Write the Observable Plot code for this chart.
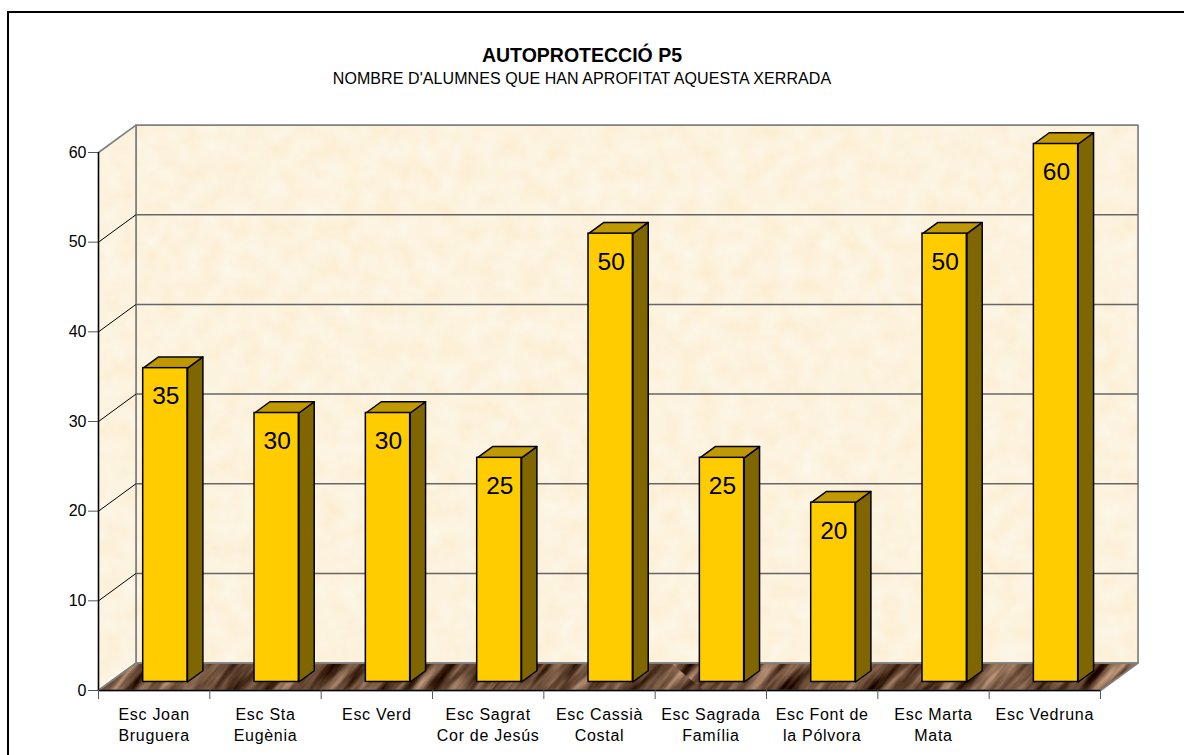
<!DOCTYPE html>
<html>
<head>
<meta charset="utf-8">
<script src="https://cdn.jsdelivr.net/npm/d3@7"></script>
<script src="https://cdn.jsdelivr.net/npm/@observablehq/plot@0.6"></script>
<style>
  html, body { margin: 0; padding: 0; background: #fff; overflow: hidden; }
  body { width: 1184px; height: 755px; position: relative; font-family: "Liberation Sans", Arial, sans-serif; color: #000; }
  #frame { position: absolute; left: 7px; top: 11px; right: 0; bottom: 0; border-left: 2px solid #000; border-top: 2px solid #000; pointer-events: none; }
  #head { height: 100px; width: 1164px; text-align: center; box-sizing: border-box; padding-top: 44px; }
  #head .t { font-size: 19.5px; font-weight: bold; line-height: 22px; }
  #head .s { font-size: 16px; line-height: 25px; letter-spacing: 0.08px; }
  #chart svg { display: block; background: transparent; overflow: visible; }
  .xlabels text { letter-spacing: 0.7px; }
</style>
</head>
<body>
<svg width="0" height="0" style="position:absolute">
  <defs>
    <filter id="paperNoise" x="0" y="0" width="100%" height="100%" color-interpolation-filters="sRGB">
      <feTurbulence type="fractalNoise" baseFrequency="0.05" numOctaves="4" seed="7"/>
      <feColorMatrix type="matrix" values="0 0 0 0 0.99  0.05 0 0 0 0.925  0.12 0 0 0 0.81  0 0 0 0 1"/>
    </filter>
    <filter id="woodNoise" x="0" y="0" width="100%" height="100%" color-interpolation-filters="sRGB">
      <feTurbulence type="fractalNoise" baseFrequency="0.012 0.085" numOctaves="4" seed="23"/>
      <feColorMatrix type="matrix" values="1.05 0 0 0 -0.1  0.95 0 0 0 -0.17  0.85 0 0 0 -0.2  0 0 0 0 1"/>
    </filter>
    <pattern id="paper" patternUnits="userSpaceOnUse" width="1184" height="755">
      <rect width="1184" height="755" filter="url(#paperNoise)"/>
    </pattern>
    <pattern id="wood" patternUnits="userSpaceOnUse" width="1184" height="755" patternTransform="rotate(-50)">
      <rect width="1184" height="755" filter="url(#woodNoise)"/>
    </pattern>
  </defs>
</svg>
<div id="frame"></div>
<div id="head">
  <div class="t">AUTOPROTECCIÓ P5</div>
  <div class="s">NOMBRE D'ALUMNES QUE HAN APROFITAT AQUESTA XERRADA</div>
</div>
<div id="chart"></div>
<script>
const schools = [
  "Esc Joan\nBruguera", "Esc Sta\nEugènia", "Esc Verd", "Esc Sagrat\nCor de Jesús",
  "Esc Cassià\nCostal", "Esc Sagrada\nFamília", "Esc Font de\nla Pólvora",
  "Esc Marta\nMata", "Esc Vedruna"
];
const pupils = [35, 30, 30, 25, 50, 25, 20, 50, 60];
const yTicks = [0, 10, 20, 30, 40, 50, 60];
const xTicks = d3.range(schools.length + 1);
const yMax = 60;

// oblique projection of the 3D box, in data units of the x and y scales
const depthX = 0.337, depthY = 3.06;
const at = (x, y, d) => ({x: x + d * depthX, y: y + d * depthY});
const barFront = 0.31, barBack = 0.72, barL = 0.297, barR = 0.695;
const N = schools.length;

const poly = (key, pts) => pts.map((p) => ({key, ...p}));
const shape = (pts, o) => Plot.line(pts, {x: "x", y: "y", curve: "linear-closed", ...o});

const wall = poly("wall", [at(0, 0, 1), at(N, 0, 1), at(N, yMax, 1), at(0, yMax, 1)]);
const side = poly("side", [at(0, 0, 0), at(0, 0, 1), at(0, yMax, 1), at(0, yMax, 0)]);
const floor = poly("floor", [at(0, 0, 0), at(N, 0, 0), at(N, 0, 1), at(0, 0, 1)]);

const gridBack = yTicks.slice(1, -1).map((v) => ({v}));

const barSides = pupils.flatMap((v, i) => poly(i, [
  at(i + barR, 0, barFront), at(i + barR, 0, barBack), at(i + barR, v, barBack), at(i + barR, v, barFront)
]));
const barTops = pupils.flatMap((v, i) => poly(i, [
  at(i + barL, v, barFront), at(i + barR, v, barFront), at(i + barR, v, barBack), at(i + barL, v, barBack)
]));
const barFronts = pupils.map((v, i) => ({
  x1: at(i + barL, 0, barFront).x, x2: at(i + barR, 0, barFront).x,
  y1: at(i, 0, barFront).y, y2: at(i, v, barFront).y,
  c: at(i + 0.5, v, barFront).x, v
}));

const plot = Plot.plot({
  width: 1184,
  height: 655,
  marginLeft: 98,
  marginRight: 84,
  marginTop: 52,
  marginBottom: 65,
  style: {background: "transparent", fontFamily: "'Liberation Sans', Arial, sans-serif", color: "#000", overflow: "visible"},
  x: {type: "linear", domain: [0, N], axis: null},
  y: {type: "linear", domain: [0, yMax], axis: null},
  marks: [
    shape(wall, {fill: "url(#paper)", stroke: "#808080", strokeWidth: 1.7}),
    shape(side, {fill: "url(#paper)", stroke: "#808080", strokeWidth: 1.7}),
    shape(floor, {fill: "url(#wood)", stroke: "#808080", strokeWidth: 1.7}),
    // horizontal grid on the back wall and its continuation on the side wall
    Plot.link(gridBack, {
      x1: () => at(0, 0, 1).x, x2: () => at(N, 0, 1).x,
      y1: (d) => at(0, d.v, 1).y, y2: (d) => at(0, d.v, 1).y,
      stroke: "#666", strokeWidth: 1.5
    }),
    Plot.link(gridBack, {
      x1: () => at(0, 0, 0).x, x2: () => at(0, 0, 1).x,
      y1: (d) => d.v, y2: (d) => at(0, d.v, 1).y,
      stroke: "#000", strokeWidth: 1
    }),
    // front edges
    Plot.ruleX([0], {y1: 0, y2: yMax, stroke: "#000", strokeWidth: 1.3}),
    Plot.ruleY([0], {x1: 0, x2: N, stroke: "#000", strokeWidth: 1.5}),
    Plot.axisY({ticks: yTicks, tickSize: 10, tickPadding: 2, fontSize: 16, label: null, stroke: "#555"}),
    Plot.axisX({ticks: xTicks, tickSize: 9, tickFormat: () => "", label: null, stroke: "#555"}),
    // bars
    shape(barSides, {z: "key", fill: "#806600", stroke: "#000", strokeWidth: 1.5}),
    shape(barTops, {z: "key", fill: "#c09900", stroke: "#000", strokeWidth: 1.5}),
    Plot.rect(barFronts, {x1: "x1", x2: "x2", y1: "y1", y2: "y2", fill: "#ffcc00", stroke: "#000", strokeWidth: 1.5}),
    Plot.text(barFronts, {x: "c", y: "y2", text: (d) => String(d.v), dy: 28, fontSize: 24.5, fill: "#000"}),
    // category labels
    Plot.text(schools, {
      x: (d, i) => i + 0.5, y: () => 0, text: (d) => d,
      dy: 15, lineAnchor: "top", lineHeight: 1.3, fontSize: 16, fill: "#000", className: "xlabels"
    })
  ]
});
document.getElementById("chart").appendChild(plot);
</script>
</body>
</html>
